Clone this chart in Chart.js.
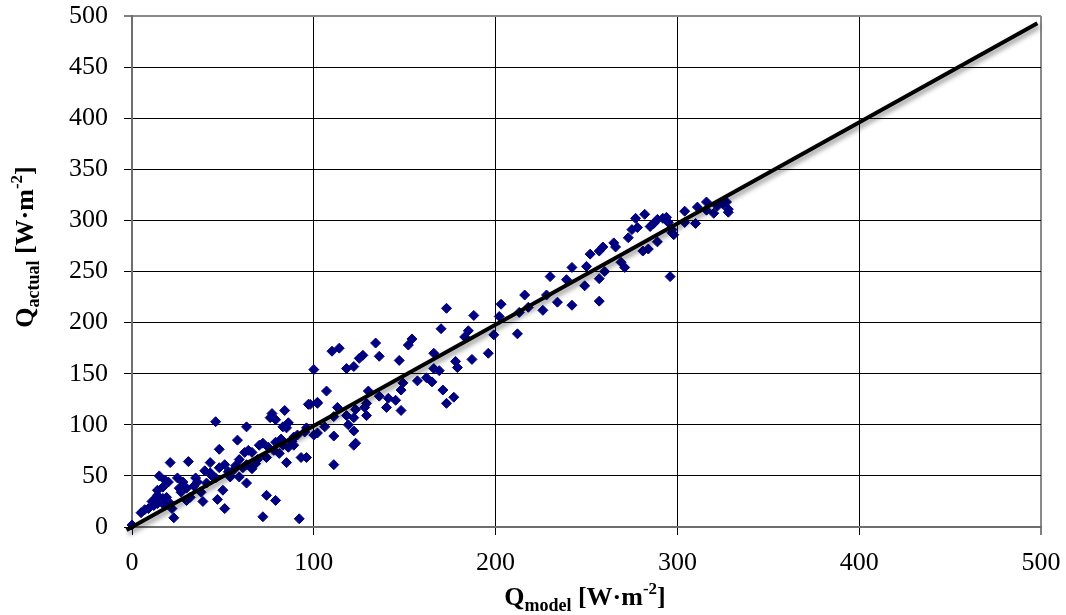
<!DOCTYPE html>
<html>
<head>
<meta charset="utf-8">
<script src="https://cdn.jsdelivr.net/npm/chart.js@4/dist/chart.umd.min.js"></script>
<style>
    html, body { margin: 0; padding: 0; background: #fff; }
    #c { display: block; }
</style>
</head>
<body>
<canvas id="c" width="1066" height="615"></canvas>
<script>
// measured vs modelled heat flux, W/m2
var modelQ = [
    0, 46, 21, 31, 15, 9, 12, 23, 72, 92, 74, 79, 51, 47, 50, 39, 30, 63, 58, 48,
    72, 77, 84, 79, 86, 98, 102, 85, 93, 96, 63, 59, 43, 25, 20, 17, 14, 17, 19, 21,
    22, 18, 14, 26, 30, 32, 35, 34, 38, 41, 43, 46, 48, 51, 54, 53, 59, 61, 63, 66,
    69, 64, 66, 62, 78, 79, 83, 86, 89, 89, 91, 85, 83, 74, 81, 76, 7, 13, 18, 14,
    5, 27, 36, 40, 56, 68, 70, 88, 95, 11, 28, 44, 57, 75, 82,
    173, 188, 170, 185, 183, 199, 202, 154, 152, 134, 114, 110, 127, 125, 136, 147, 166, 196, 187, 178,
    179, 118, 122, 100, 166, 169, 157, 162, 165, 149, 148, 171, 177, 173, 107, 130, 136, 141, 145, 140,
    148, 129, 128, 123, 113, 102, 97, 129, 118, 122, 119, 122, 106, 111, 100, 102, 96, 111, 122, 123, 111,
    212, 203, 213, 216, 218, 226, 228, 230, 234, 242, 239, 242, 249, 250, 257, 257, 260, 252, 257, 259,
    265, 266, 269, 271, 273, 275, 278, 277, 282, 281, 284, 289, 285, 287, 289, 292, 294, 295, 297, 297,
    298, 296, 304, 304, 310, 311, 316, 316, 320, 322, 325, 327, 328, 328
];
var actualQ = [
    2, 103, 63, 64, 50, 18, 21, 9, 10, 8, 31, 26, 18, 27, 36, 25, 26, 98, 85, 76,
    82, 111, 114, 105, 102, 120, 121, 63, 68, 68, 43, 49, 63, 48, 44, 39, 31, 28, 29, 23,
    18, 21, 23, 38, 38, 29, 48, 40, 34, 43, 53, 48, 58, 61, 49, 54, 66, 58, 61, 57,
    66, 75, 73, 73, 75, 83, 80, 78, 80, 88, 90, 97, 98, 68, 72, 107, 17, 28, 46, 36,
    14, 34, 44, 55, 56, 62, 80, 84, 93, 25, 44, 50, 60, 78, 86,
    214, 207, 194, 192, 186, 188, 206, 184, 178, 180, 175, 172, 168, 165, 167, 163, 170, 170, 164, 162,
    156, 155, 157, 154, 155, 153, 143, 146, 142, 141, 134, 134, 127, 121, 133, 133, 128, 126, 124, 117,
    114, 121, 117, 115, 117, 122, 120, 109, 109, 107, 100, 94, 98, 108, 90, 92, 97, 89, 80, 82, 61,
    189, 218, 210, 227, 215, 212, 227, 245, 220, 217, 242, 254, 236, 255, 221, 243, 250, 267, 270, 274,
    278, 274, 259, 254, 283, 291, 293, 302, 306, 270, 272, 279, 294, 297, 301, 302, 303, 298, 291, 288,
    286, 245, 298, 309, 297, 313, 318, 310, 307, 314, 316, 318, 311, 308
];
// fitted line through the data
var fitX = [-3, 498];
var fitY = [-3, 493];

var xTicks = [0, 100, 200, 300, 400, 500];
var yTicks = [0, 50, 100, 150, 200, 250, 300, 350, 400, 450, 500];

var points = modelQ.map(function (x, i) { return {x: x, y: actualQ[i]}; });
var fit = fitX.map(function (x, i) { return {x: x, y: fitY[i]}; });

var serif = '"Liberation Serif", "Times New Roman", serif';

function richText(ctx, parts, cx, cy) {
    var w = 0;
    parts.forEach(function (p) {
        ctx.font = 'bold ' + p[1] + 'px ' + serif;
        w += ctx.measureText(p[0]).width;
    });
    var x = cx - w / 2;
    parts.forEach(function (p) {
        ctx.font = 'bold ' + p[1] + 'px ' + serif;
        ctx.fillText(p[0], x, cy + p[2]);
        x += ctx.measureText(p[0]).width;
    });
}

var decor = {
    id: 'decor',
    beforeDatasetDraw: function (chart, args) {
        if (args.index !== 0) return;
        var c = chart.ctx;
        c.save();
        c.shadowColor = 'rgba(0,0,0,0.45)';
        c.shadowBlur = 5;
        c.shadowOffsetX = 2;
        c.shadowOffsetY = 3;
    },
    afterDatasetDraw: function (chart, args) {
        if (args.index === 0) chart.ctx.restore();
    },
    afterDraw: function (chart) {
        var c = chart.ctx;
        c.save();
        c.fillStyle = '#000';
        c.textAlign = 'left';
        c.textBaseline = 'alphabetic';
        richText(c, [['Q', 26, 0], ['model', 18, 6], [' [W\u00b7m', 26, 0], ['-2', 17, -11], [']', 26, 0]], 585, 605);
        c.translate(33, 247);
        c.rotate(-Math.PI / 2);
        richText(c, [['Q', 26, 0], ['actual', 18, 6], [' [W\u00b7m', 26, 0], ['-2', 17, -11], [']', 26, 0]], 0, 0);
        c.restore();
    }
};

function edgeColor(ctx) {
    return ctx.tick && ctx.tick.value === 500 ? '#8a8a8a' : '#000';
}
function edgeWidth(ctx) {
    return ctx.tick && ctx.tick.value === 500 ? 2 : 1;
}
function noPad(s) {
    s.paddingTop = 0;
    s.paddingBottom = 0;
    s.paddingLeft = 0;
    s.paddingRight = 0;
}

new Chart(document.getElementById('c'), {
    type: 'scatter',
    data: {
        datasets: [{
            type: 'line',
            data: fit,
            borderColor: '#000',
            borderWidth: 4,
            pointRadius: 0,
            fill: false,
            clip: false,
            order: 0
        }, {
            data: points,
            pointStyle: 'rectRot',
            pointRadius: 5,
            backgroundColor: '#000080',
            borderColor: '#000080',
            borderWidth: 1,
            clip: false,
            order: 1
        }]
    },
    options: {
        responsive: false,
        animation: false,
        layout: {padding: {top: 16, right: 25, left: 0, bottom: 0}},
        plugins: {legend: {display: false}, tooltip: {enabled: false}},
        scales: {
            x: {
                type: 'linear',
                min: 0,
                max: 500,
                afterBuildTicks: function (s) { s.ticks = xTicks.map(function (v) { return {value: v}; }); },
                afterFit: function (s) { s.height = 88; noPad(s); },
                ticks: {color: '#000', padding: 13, font: {family: serif, size: 26}},
                grid: {color: edgeColor, lineWidth: edgeWidth, tickLength: 8, tickColor: '#000', tickWidth: 1},
                border: {color: '#6e6e6e', width: 2}
            },
            y: {
                type: 'linear',
                min: 0,
                max: 500,
                afterBuildTicks: function (s) { s.ticks = yTicks.map(function (v) { return {value: v}; }); },
                afterFit: function (s) { s.width = 132; noPad(s); },
                ticks: {color: '#000', padding: 16, font: {family: serif, size: 26}},
                grid: {color: edgeColor, lineWidth: edgeWidth, tickLength: 8, tickColor: '#000', tickWidth: 1},
                border: {color: '#6e6e6e', width: 2}
            }
        }
    },
    plugins: [decor]
});
</script>
</body>
</html>
